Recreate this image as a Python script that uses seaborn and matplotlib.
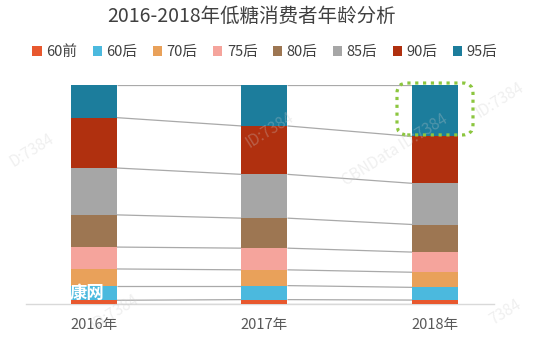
import numpy as np
import pandas as pd
import matplotlib
matplotlib.use("Agg")
import matplotlib.pyplot as plt
from matplotlib.patches import Patch, FancyBboxPatch
import seaborn as sns

years = ['2016年', '2017年', '2018年']
groups = ['60前', '60后', '70后', '75后', '80后', '85后', '90后', '95后']
v60q = [1.7, 2.0, 1.8]
v60h = [6.7, 6.4, 5.8]
v70 = [7.6, 7.2, 6.9]
v75 = [10.0, 9.9, 9.2]
v80 = [14.7, 13.7, 12.6]
v85 = [21.4, 20.0, 18.8]
v90 = [23.0, 22.1, 21.4]
v95 = [14.9, 18.7, 23.5]
colors = ['#E8582E', '#4BB9DE', '#E9A15A', '#F5A49C', '#9D7652', '#A6A6A6', '#B0300F', '#1C7D9C']

series = [v60q, v60h, v70, v75, v80, v85, v90, v95]
vals = np.array(series, dtype=float) / 100.0
cum = np.cumsum(vals, axis=0)

sns.set_theme(style="white")
plt.rcParams['font.family'] = ['Noto Sans CJK SC', 'DejaVu Sans']

W, H = 547, 339
fig = plt.figure(figsize=(W / 100, H / 100), dpi=100)
x0 = -0.396
x1 = 2.344
ax = fig.add_axes([26 / W, (H - 304) / H, (494 - 26) / W, (304 - 85) / H])

bw = 0.27
# stacked bars: draw cumulative totals from top group down
for i in range(len(groups) - 1, -1, -1):
    df = pd.DataFrame({'year': years, 'v': cum[i]})
    sns.barplot(data=df, x='year', y='v', order=years, color=colors[i],
                saturation=1, width=bw, errorbar=None, ax=ax, linewidth=0, zorder=3)

# connecting lines between bars
bounds = np.vstack([np.zeros(len(years)), cum])
for k in range(bounds.shape[0]):
    for j in range(len(years) - 1):
        ax.plot([j + bw / 2, j + 1 - bw / 2], [bounds[k, j], bounds[k, j + 1]],
                color='#A9A9A9', lw=0.9, zorder=2, solid_capstyle='butt')

ax.set_xlim(x0, x1)
ax.set_ylim(0, 1.0)
ax.set_xlabel('')
ax.set_ylabel('')
ax.set_yticks([])
for s in ['top', 'right', 'left']:
    ax.spines[s].set_visible(False)
ax.spines['bottom'].set_color('#D9D9D9')
ax.spines['bottom'].set_linewidth(1.0)
ax.tick_params(axis='x', length=0, pad=10, labelsize=10.5, labelcolor='#595959')

# dotted highlight box around 2018 95后
box = FancyBboxPatch((1.776, 0.772), 2.221 - 1.776, 1.009 - 0.772,
                     boxstyle="round,pad=0,rounding_size=0.06", mutation_aspect=0.78,
                     fill=False, edgecolor='#8CC63F', linewidth=2.3,
                     linestyle=(0, (1, 1.45)), clip_on=False, zorder=5)
ax.add_patch(box)

# watermarks
for (wx, wy, txt) in [(395, 150, 'CBNData ID:7384'), (270, 130, 'ID:7384'),
                      (32, 150, 'D:7384'), (500, 100, 'ID:7384'), (115, 312, 'ID:7384'),
                      (505, 312, '7384')]:
    fig.text(wx / W, 1 - wy / H, txt, rotation=32, fontsize=11, color='#CCCCCC',
             alpha=0.3, ha='center', va='center', zorder=10)

fig.text(87 / W, 1 - 293.5 / H, '康网', fontsize=12.5, color='white', fontweight='bold',
         ha='center', va='center', zorder=11)

# title
fig.text(252 / W, 1 - 16 / H, '2016-2018年低糖消费者年龄分析', fontsize=14,
         color='#404040', ha='center', va='center')

handles = [Patch(facecolor=c, edgecolor='none') for c in colors]
fig.legend(handles, groups, loc='center', bbox_to_anchor=(265 / W, 1 - 52 / H), ncol=8,
           frameon=False, fontsize=10.5, handlelength=0.65, handleheight=0.65,
           handletextpad=0.3, columnspacing=1.05, labelcolor='#404040')

fig.savefig('out.png', dpi=100)
